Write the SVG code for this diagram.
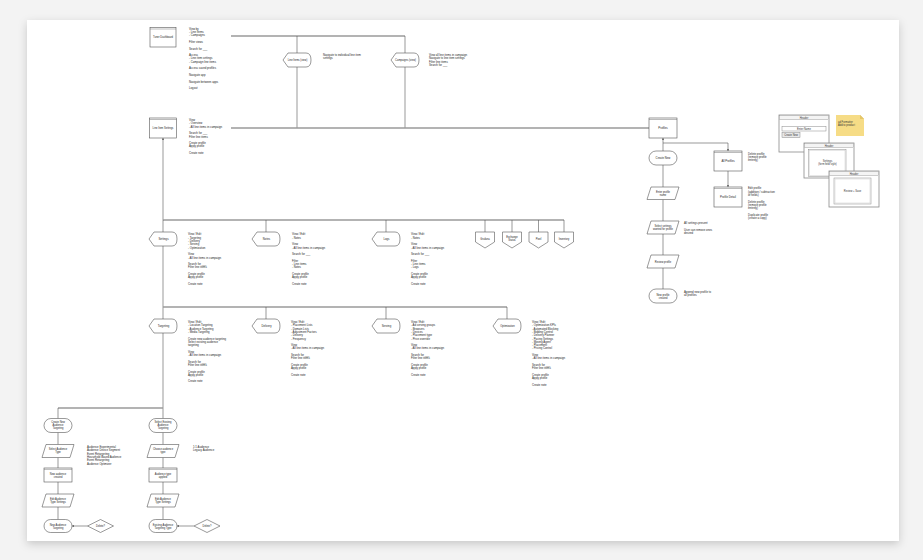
<svg xmlns="http://www.w3.org/2000/svg" width="923" height="560" viewBox="0 0 923 560">
<defs>
<style>
.bus{stroke:#9a9a9a;stroke-width:1.4;fill:none}
.ln{stroke:#555;stroke-width:0.6;fill:none}
.sh{fill:#fff;stroke:#555;stroke-width:0.6}
.hd{stroke:#555;stroke-width:0.4}
.t{font-family:"Liberation Sans",Arial,sans-serif;font-size:2.8px;fill:#222}
.n{font-family:"Liberation Sans",Arial,sans-serif;font-size:2.8px;fill:#222;text-anchor:middle}
.s{font-size:2.6px}
.w{fill:#fff;stroke:#8a8a8a;stroke-width:0.8}
.wi{fill:none;stroke:#c4c4c4;stroke-width:0.4}
.wt{font-family:"Liberation Sans",Arial,sans-serif;font-size:2.6px;fill:#333;text-anchor:middle}
</style>
<filter id="shadow" x="-5%" y="-5%" width="110%" height="115%">
<feDropShadow dx="0" dy="3" stdDeviation="4" flood-color="#000" flood-opacity="0.18"/>
</filter>
<marker id="ah" viewBox="0 0 6 6" refX="6" refY="3" markerWidth="4" markerHeight="4" orient="auto-start-reverse">
<path d="M0,0 L6,3 L0,6 Z" fill="#555"/>
</marker>
</defs>

<rect width="923" height="560" fill="#f3f3f3"/>
<rect x="27" y="20" width="872" height="521" fill="#fff" filter="url(#shadow)"/>

<g id="connectors">
<line class="bus" x1="231" y1="36" x2="405" y2="36"/>
<line class="ln" x1="297" y1="36" x2="297" y2="53"/>
<line class="ln" x1="297" y1="67" x2="297" y2="128"/>
<line class="ln" x1="405" y1="36" x2="405" y2="53"/>
<line class="ln" x1="405" y1="67" x2="405" y2="128"/>
<line class="bus" x1="231" y1="128" x2="649" y2="128"/>
<line class="ln" x1="163" y1="220" x2="163" y2="138" marker-end="url(#ah)"/>
<line class="bus" x1="163" y1="220" x2="564" y2="220"/>
<line class="ln" x1="163" y1="220" x2="163" y2="232"/>
<line class="ln" x1="266" y1="220" x2="266" y2="232"/>
<line class="ln" x1="386" y1="220" x2="386" y2="232"/>
<line class="ln" x1="485" y1="220" x2="485" y2="232"/>
<line class="ln" x1="512" y1="220" x2="512" y2="232"/>
<line class="ln" x1="538.5" y1="220" x2="538.5" y2="232"/>
<line class="ln" x1="564" y1="220" x2="564" y2="232"/>
<line class="ln" x1="163" y1="246" x2="163" y2="319"/>
<line class="bus" x1="163" y1="307" x2="507" y2="307"/>
<line class="ln" x1="266" y1="307" x2="266" y2="319"/>
<line class="ln" x1="386" y1="307" x2="386" y2="319"/>
<line class="ln" x1="507" y1="307" x2="507" y2="319"/>
<line class="ln" x1="163" y1="333" x2="163" y2="418.5"/>
<line class="bus" x1="58" y1="408" x2="163" y2="408"/>
<line class="ln" x1="58" y1="408" x2="58" y2="418.5"/>
<line class="ln" x1="58" y1="432.5" x2="58" y2="444.5"/>
<line class="ln" x1="58" y1="457.5" x2="58" y2="468"/>
<line class="ln" x1="58" y1="482" x2="58" y2="494"/>
<line class="ln" x1="58" y1="507" x2="58" y2="519.5"/>
<line class="ln" x1="87.5" y1="526" x2="72" y2="526" marker-end="url(#ah)"/>
<line class="ln" x1="163" y1="432.5" x2="163" y2="444.5"/>
<line class="ln" x1="163" y1="457.5" x2="163" y2="468"/>
<line class="ln" x1="163" y1="482" x2="163" y2="494"/>
<line class="ln" x1="163" y1="507" x2="163" y2="519.5"/>
<line class="ln" x1="194" y1="526" x2="177" y2="526" marker-end="url(#ah)"/>
<line class="ln" x1="663" y1="151" x2="663" y2="138" marker-end="url(#ah)"/>
<polyline class="ln" points="663,143 728,143 728,151" marker-end="url(#ah)"/>
<line class="ln" x1="728" y1="171" x2="728" y2="187" marker-end="url(#ah)"/>
<line class="ln" x1="663" y1="165" x2="663" y2="187"/>
<line class="ln" x1="663" y1="199.5" x2="663" y2="221"/>
<line class="ln" x1="663" y1="234" x2="663" y2="255"/>
<line class="ln" x1="663" y1="268" x2="663" y2="289"/>
</g>

<g id="n-tuner">
<rect class="sh" x="150" y="27.5" width="26" height="19.5"/>
<line class="hd" x1="150" y1="29" x2="176" y2="29"/>
<text class="n s" x="163" y="38.2">Tuner Dashboard</text>
</g>
<text class="t" x="189" y="29.7"><tspan x="189">View by</tspan><tspan x="189" dy="3.3">- Line Items</tspan><tspan x="189" dy="3.3">- Campaigns</tspan><tspan x="189" dy="6.6">Filter views</tspan><tspan x="189" dy="6.6">Search for ___</tspan><tspan x="189" dy="6.6">Access</tspan><tspan x="189" dy="3.3">- Line item settings</tspan><tspan x="189" dy="3.3">- Campaign line items</tspan><tspan x="189" dy="6.6">Access saved profiles</tspan><tspan x="189" dy="6.6">Navigate app</tspan><tspan x="189" dy="6.6">Navigate between apps</tspan><tspan x="189" dy="6.6">Logout</tspan></text>

<g id="n-lis">
<rect class="sh" x="149.5" y="118" width="27" height="20"/>
<line class="hd" x1="149.5" y1="119.5" x2="176.5" y2="119.5"/>
<text class="n s" x="163" y="129">Line Item Settings</text>
</g>
<text class="t" x="189" y="121"><tspan x="189">View</tspan><tspan x="189" dy="3.3">- Overview</tspan><tspan x="189" dy="3.3">- All line items in campaign</tspan><tspan x="189" dy="6.6">Search for ___</tspan><tspan x="189" dy="3.3">Filter line items</tspan><tspan x="189" dy="6.6">Create profile</tspan><tspan x="189" dy="3.3">Apply profile</tspan><tspan x="189" dy="6.6">Create note</tspan></text>

<g id="n-liview">
<path class="sh" d="M283,60 L288,53 L306,53 Q311,53 311,60 Q311,67 306,67 L288,67 Z"/>
<text class="n s" x="297.5" y="61">Line Items (view)</text>
</g>
<text class="t" x="323" y="56"><tspan x="323">Navigate to individual line item</tspan><tspan x="323" dy="3.3">settings</tspan></text>

<g id="n-campview">
<path class="sh" d="M391,60 L396,53 L414,53 Q419,53 419,60 Q419,67 414,67 L396,67 Z"/>
<text class="n s" x="405.5" y="61">Campaigns (view)</text>
</g>
<text class="t" x="429" y="56"><tspan x="429">View all line items in campaign</tspan><tspan x="429" dy="3.3">Navigate to line item settings</tspan><tspan x="429" dy="3.3">Filter line items</tspan><tspan x="429" dy="3.3">Search for ___</tspan></text>

<g id="n-settings">
<path class="sh" d="M149,239 L154,232 L172,232 Q177,232 177,239 Q177,246 172,246 L154,246 Z"/>
<text class="n" x="163.5" y="240">Settings</text>
</g>
<text class="t" x="188" y="235.4"><tspan x="188">View / Edit</tspan><tspan x="188" dy="3.3">- Targeting</tspan><tspan x="188" dy="3.3">- Delivery</tspan><tspan x="188" dy="3.3">- Serving</tspan><tspan x="188" dy="3.3">- Optimization</tspan><tspan x="188" dy="6.6">View</tspan><tspan x="188" dy="3.3">- All line items in campaign</tspan><tspan x="188" dy="6.6">Search for ___</tspan><tspan x="188" dy="3.3">Filter line items</tspan><tspan x="188" dy="6.6">Create profile</tspan><tspan x="188" dy="3.3">Apply profile</tspan><tspan x="188" dy="6.6">Create note</tspan></text>

<g id="n-notes">
<path class="sh" d="M252,239 L257,232 L275,232 Q280,232 280,239 Q280,246 275,246 L257,246 Z"/>
<text class="n" x="266.5" y="240">Notes</text>
</g>
<text class="t" x="292" y="235.4"><tspan x="292">View / Edit</tspan><tspan x="292" dy="3.3">- Notes</tspan><tspan x="292" dy="6.6">View</tspan><tspan x="292" dy="3.3">- All line items in campaign</tspan><tspan x="292" dy="6.6">Search for ___</tspan><tspan x="292" dy="6.6">Filter</tspan><tspan x="292" dy="3.3">- Line items</tspan><tspan x="292" dy="3.3">- Notes</tspan><tspan x="292" dy="6.6">Create profile</tspan><tspan x="292" dy="3.3">Apply profile</tspan><tspan x="292" dy="6.6">Create note</tspan></text>

<g id="n-logs">
<path class="sh" d="M372,239 L377,232 L395,232 Q400,232 400,239 Q400,246 395,246 L377,246 Z"/>
<text class="n" x="386.5" y="240">Logs</text>
</g>
<text class="t" x="411" y="235.4"><tspan x="411">View / Edit</tspan><tspan x="411" dy="3.3">- Notes</tspan><tspan x="411" dy="6.6">View</tspan><tspan x="411" dy="3.3">- All line items in campaign</tspan><tspan x="411" dy="6.6">Search for ___</tspan><tspan x="411" dy="6.6">Filter</tspan><tspan x="411" dy="3.3">- Line items</tspan><tspan x="411" dy="3.3">- Logs</tspan><tspan x="411" dy="6.6">Create profile</tspan><tspan x="411" dy="3.3">Apply profile</tspan><tspan x="411" dy="6.6">Create note</tspan></text>

<g id="n-grafana">
<path class="sh" d="M475.5,232 H494.5 V242 L485,248 L475.5,242 Z"/>
<text class="n s" x="485" y="239.5">Grafana</text>
</g>
<g id="n-exchange">
<path class="sh" d="M502.5,232 H521.5 V242 L512,248 L502.5,242 Z"/>
<text class="n s" x="512" y="237.8"><tspan x="512">Exchange</tspan><tspan x="512" dy="3">Status</tspan></text>
</g>
<g id="n-pixel">
<path class="sh" d="M529,232 H548 V242 L538.5,248 L529,242 Z"/>
<text class="n s" x="538.5" y="239.5">Pixel</text>
</g>
<g id="n-inventory">
<path class="sh" d="M554.5,232 H573.5 V242 L564,248 L554.5,242 Z"/>
<text class="n s" x="564" y="239.5">Inventory</text>
</g>

<g id="n-targeting">
<path class="sh" d="M149,326 L154,319 L172,319 Q177,319 177,326 Q177,333 172,333 L154,333 Z"/>
<text class="n" x="163.5" y="327">Targeting</text>
</g>
<text class="t" x="188" y="323"><tspan x="188">View / Edit</tspan><tspan x="188" dy="3.3">- Location Targeting</tspan><tspan x="188" dy="3.3">- Audience Targeting</tspan><tspan x="188" dy="3.3">- Media Targeting</tspan><tspan x="188" dy="6.6">Create new audience targeting</tspan><tspan x="188" dy="3.3">Select existing audience</tspan><tspan x="188" dy="3.3">targeting</tspan><tspan x="188" dy="6.6">View</tspan><tspan x="188" dy="3.3">- All line items in campaign</tspan><tspan x="188" dy="6.6">Search for ___</tspan><tspan x="188" dy="3.3">Filter line items</tspan><tspan x="188" dy="6.6">Create profile</tspan><tspan x="188" dy="3.3">Apply profile</tspan><tspan x="188" dy="6.6">Create note</tspan></text>

<g id="n-delivery">
<path class="sh" d="M252,326 L257,319 L275,319 Q280,319 280,326 Q280,333 275,333 L257,333 Z"/>
<text class="n" x="266.5" y="327">Delivery</text>
</g>
<text class="t" x="291" y="323"><tspan x="291">View / Edit</tspan><tspan x="291" dy="3.3">- Placement Lists</tspan><tspan x="291" dy="3.3">- Domain Lists</tspan><tspan x="291" dy="3.3">- Adjustment Factors</tspan><tspan x="291" dy="3.3">- Delivery</tspan><tspan x="291" dy="3.3">- Frequency</tspan><tspan x="291" dy="6.6">View</tspan><tspan x="291" dy="3.3">- All line items in campaign</tspan><tspan x="291" dy="6.6">Search for ___</tspan><tspan x="291" dy="3.3">Filter line items</tspan><tspan x="291" dy="6.6">Create profile</tspan><tspan x="291" dy="3.3">Apply profile</tspan><tspan x="291" dy="6.6">Create note</tspan></text>

<g id="n-serving">
<path class="sh" d="M372,326 L377,319 L395,319 Q400,319 400,326 Q400,333 395,333 L377,333 Z"/>
<text class="n" x="386.5" y="327">Serving</text>
</g>
<text class="t" x="411" y="323"><tspan x="411">View / Edit</tspan><tspan x="411" dy="3.3">- Ad serving groups</tspan><tspan x="411" dy="3.3">- Browsers</tspan><tspan x="411" dy="3.3">- Devices</tspan><tspan x="411" dy="3.3">- Placement type</tspan><tspan x="411" dy="3.3">- Price override</tspan><tspan x="411" dy="6.6">View</tspan><tspan x="411" dy="3.3">- All line items in campaign</tspan><tspan x="411" dy="6.6">Search for ___</tspan><tspan x="411" dy="3.3">Filter line items</tspan><tspan x="411" dy="6.6">Create profile</tspan><tspan x="411" dy="3.3">Apply profile</tspan><tspan x="411" dy="6.6">Create note</tspan></text>

<g id="n-optimization">
<path class="sh" d="M493,326 L498,319 L516,319 Q521,319 521,326 Q521,333 516,333 L498,333 Z"/>
<text class="n s" x="507.5" y="327">Optimization</text>
</g>
<text class="t" x="532" y="323"><tspan x="532">View / Edit</tspan><tspan x="532" dy="3.3">- Optimization KPIs</tspan><tspan x="532" dy="3.3">- Automated Blocking</tspan><tspan x="532" dy="3.3">- Bidding Control</tspan><tspan x="532" dy="3.3">- Delivery Planner</tspan><tspan x="532" dy="3.3">- Pacing Settings</tspan><tspan x="532" dy="3.3">- Moving Agent</tspan><tspan x="532" dy="3.3">- Placement</tspan><tspan x="532" dy="3.3">- Pricing Control</tspan><tspan x="532" dy="6.6">View</tspan><tspan x="532" dy="3.3">- All line items in campaign</tspan><tspan x="532" dy="6.6">Search for ___</tspan><tspan x="532" dy="3.3">Filter line items</tspan><tspan x="532" dy="6.6">Create profile</tspan><tspan x="532" dy="3.3">Apply profile</tspan><tspan x="532" dy="6.6">Create note</tspan></text>

<g id="n-cnat">
<rect class="sh" x="44" y="418.5" width="28" height="14" rx="7"/>
<text class="n s" x="58" y="423.2"><tspan x="58">Create New</tspan><tspan x="58" dy="3">Audience</tspan><tspan x="58" dy="3">Targeting</tspan></text>
</g>
<g id="n-sat">
<polygon class="sh" points="46,444.5 74,444.5 70,457.5 42,457.5"/>
<text class="n s" x="58" y="450.4"><tspan x="58">Select Audience</tspan><tspan x="58" dy="3">Type</tspan></text>
</g>
<text class="t" x="87" y="448"><tspan x="87">Audience Experimental</tspan><tspan x="87" dy="3.3">Audience Device Segment</tspan><tspan x="87" dy="3.3">Event Retargeting</tspan><tspan x="87" dy="3.3">Household Based Audience</tspan><tspan x="87" dy="3.3">Event Retargeting</tspan><tspan x="87" dy="3.3">Audience Optimizer</tspan></text>
<g id="n-nac">
<rect class="sh" x="44" y="468" width="28" height="14"/>
<line class="hd" x1="44" y1="469.4" x2="72" y2="469.4"/>
<text class="n s" x="58" y="474.6"><tspan x="58">New audience</tspan><tspan x="58" dy="3">created</tspan></text>
</g>
<g id="n-eats1">
<polygon class="sh" points="46,494 74,494 70,507 42,507"/>
<text class="n s" x="58" y="500"><tspan x="58">Edit Audience</tspan><tspan x="58" dy="3">Type Settings</tspan></text>
</g>
<g id="n-nat">
<rect class="sh" x="44" y="519.5" width="28" height="13" rx="6.5"/>
<text class="n s" x="58" y="525.5"><tspan x="58">New Audience</tspan><tspan x="58" dy="3">Targeting</tspan></text>
</g>
<g id="n-del1">
<polygon class="sh" points="100.5,519.5 113.5,526 100.5,532.5 87.5,526"/>
<text class="n s" x="100.5" y="527">Delete?</text>
</g>

<g id="n-seat">
<rect class="sh" x="149" y="418.5" width="28" height="14" rx="7"/>
<text class="n s" x="163" y="423.2"><tspan x="163">Select Existing</tspan><tspan x="163" dy="3">Audience</tspan><tspan x="163" dy="3">Targeting</tspan></text>
</g>
<g id="n-cat">
<polygon class="sh" points="151,444.5 179,444.5 175,457.5 147,457.5"/>
<text class="n s" x="163" y="450.4"><tspan x="163">Choose audience</tspan><tspan x="163" dy="3">type</tspan></text>
</g>
<text class="t" x="193" y="448"><tspan x="193">1:1 Audience</tspan><tspan x="193" dy="3.3">Legacy Audience</tspan></text>
<g id="n-ata">
<rect class="sh" x="149" y="468" width="28" height="14"/>
<line class="hd" x1="149" y1="469.4" x2="177" y2="469.4"/>
<text class="n s" x="163" y="474.6"><tspan x="163">Audience type</tspan><tspan x="163" dy="3">applied</tspan></text>
</g>
<g id="n-eats2">
<polygon class="sh" points="151,494 179,494 175,507 147,507"/>
<text class="n s" x="163" y="500"><tspan x="163">Edit Audience</tspan><tspan x="163" dy="3">Type Settings</tspan></text>
</g>
<g id="n-eatt">
<rect class="sh" x="149" y="519.5" width="28" height="13" rx="6.5"/>
<text class="n s" x="163" y="525.5"><tspan x="163">Existing Audience</tspan><tspan x="163" dy="3">Targeting Type</tspan></text>
</g>
<g id="n-del2">
<polygon class="sh" points="207,519.5 220,526 207,532.5 194,526"/>
<text class="n s" x="207" y="527">Delete?</text>
</g>

<g id="n-profiles">
<rect class="sh" x="649" y="118" width="28" height="20"/>
<line class="hd" x1="649" y1="119.5" x2="677" y2="119.5"/>
<text class="n" x="663" y="129">Profiles</text>
</g>
<g id="n-createnew">
<rect class="sh" x="649" y="151" width="28" height="14" rx="7"/>
<text class="n" x="663" y="159">Create New</text>
</g>
<g id="n-allprofiles">
<rect class="sh" x="714" y="151" width="28" height="20"/>
<line class="hd" x1="714" y1="152.5" x2="742" y2="152.5"/>
<text class="n" x="728" y="162">All Profiles</text>
</g>
<text class="t" x="748" y="154.5"><tspan x="748">Delete profile</tspan><tspan x="748" dy="3.3">(remove profile</tspan><tspan x="748" dy="3.3">entirely)</tspan></text>
<g id="n-profiledetail">
<rect class="sh" x="714" y="187" width="28" height="20"/>
<line class="hd" x1="714" y1="188.5" x2="742" y2="188.5"/>
<text class="n" x="728" y="198">Profile Detail</text>
</g>
<text class="t" x="748" y="189.4"><tspan x="748">Edit profile</tspan><tspan x="748" dy="3.3">(addition / subtraction</tspan><tspan x="748" dy="3.3">of fields)</tspan><tspan x="748" dy="6.6">Delete profile</tspan><tspan x="748" dy="3.3">(remove profile</tspan><tspan x="748" dy="3.3">entirely)</tspan><tspan x="748" dy="6.6">Duplicate profile</tspan><tspan x="748" dy="3.3">(create a copy)</tspan></text>
<g id="n-entername">
<polygon class="sh" points="651,187 679,187 675,199.5 647,199.5"/>
<text class="n s" x="663" y="192.6"><tspan x="663">Enter profile</tspan><tspan x="663" dy="3">name</tspan></text>
</g>
<g id="n-selectsettings">
<polygon class="sh" points="651,221 679,221 675,234 647,234"/>
<text class="n s" x="663" y="227"><tspan x="663">Select settings</tspan><tspan x="663" dy="3">wanted for profile</tspan></text>
</g>
<text class="t" x="684" y="224.3"><tspan x="684">All settings present</tspan><tspan x="684" dy="6.6">User can remove ones</tspan><tspan x="684" dy="3.3">desired</tspan></text>
<g id="n-review">
<polygon class="sh" points="651,255 679,255 675,268 647,268"/>
<text class="n s" x="663" y="262.5">Review profile</text>
</g>
<g id="n-newprofile">
<rect class="sh" x="649" y="289" width="28" height="14" rx="7"/>
<text class="n s" x="663" y="295.5"><tspan x="663">New profile</tspan><tspan x="663" dy="3">created</tspan></text>
</g>
<text class="t" x="684" y="292.8"><tspan x="684">Append new profile to</tspan><tspan x="684" dy="3.3">all profiles</tspan></text>

<g id="w1">
<rect class="w" x="779" y="115" width="50" height="37"/>
<rect x="779.4" y="115.4" width="49.2" height="4.2" fill="#f4f4f4" stroke="#8a8a8a" stroke-width="0.4"/>
<text class="wt" x="804" y="118.5">Header</text>
<rect x="782" y="126.5" width="44" height="4.5" fill="#fff" stroke="#8a8a8a" stroke-width="0.5"/>
<text class="wt" x="804" y="129.7">Enter Name</text>
<rect x="782" y="132.5" width="18" height="5" fill="#e8e8e8" stroke="#8a8a8a" stroke-width="0.5"/>
<text class="wt" x="791" y="135.9">Create New</text>
</g>
<g id="note">
<path d="M836,115 H860 L864,119 V136 H836 Z" fill="#f6dc86"/>
<path d="M860,115 V119 H864 Z" fill="#e6c667"/>
<path d="M860,115 L864,119" stroke="#b9a04e" stroke-width="0.3" stroke-dasharray="0.6,0.6"/>
<text class="t" x="838" y="123" style="font-size:2.6px;fill:#333"><tspan x="838">ad Formatter</tspan><tspan x="838" dy="3.2">Add to product</tspan></text>
</g>
<g id="w2">
<rect class="w" x="804" y="143" width="50" height="35"/>
<rect x="804.4" y="143.4" width="49.2" height="4.2" fill="#f4f4f4" stroke="#8a8a8a" stroke-width="0.4"/>
<text class="wt" x="829" y="146.5">Header</text>
<rect x="808.5" y="149.5" width="37.5" height="27" fill="#fff" stroke="#8a8a8a" stroke-width="0.5"/>
<rect class="wi" x="809.5" y="150.5" width="35.5" height="25"/>
<text class="wt" x="827.5" y="161.5"><tspan x="827.5">Settings</tspan><tspan x="827.5" dy="3">(form field style)</tspan></text>
</g>
<g id="w3">
<rect class="w" x="829" y="171" width="50" height="36"/>
<rect x="829.4" y="171.4" width="49.2" height="4.2" fill="#f4f4f4" stroke="#8a8a8a" stroke-width="0.4"/>
<text class="wt" x="854" y="174.5">Header</text>
<rect x="834" y="178" width="37" height="26" fill="#fff" stroke="#8a8a8a" stroke-width="0.5"/>
<rect class="wi" x="835" y="179" width="35" height="24"/>
<text class="wt" x="852.5" y="192">Review + Save</text>
</g>
</svg>
